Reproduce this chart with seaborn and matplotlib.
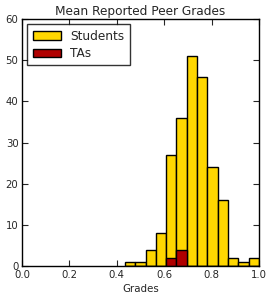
import numpy as np
import pandas as pd
import matplotlib
matplotlib.use("Agg")
import matplotlib.pyplot as plt
import seaborn as sns

# Data
bin_lo = 0.4348
bin_hi = 1.0
n_bins = 13
student_counts = [1, 1, 4, 8, 27, 36, 51, 46, 24, 16, 2, 1, 2]
ta_counts = [0, 0, 0, 0, 2, 4, 0, 0, 0, 0, 0, 0, 0]
series_names = ["Students", "TAs"]
colors = ["#FFD700", "#B00000"]

edges = np.linspace(bin_lo, bin_hi, n_bins + 1)
centers = (edges[:-1] + edges[1:]) / 2

sns.set_style("ticks")
plt.rcParams['font.family'] = ['DejaVu Sans']

fig = plt.figure(figsize=(2.74, 3.0), dpi=100)
ax = fig.add_axes([0.080, 0.113, 0.865, 0.824])

df_s = pd.DataFrame({"g": centers, "w": student_counts})
df_t = pd.DataFrame({"g": centers, "w": ta_counts})

sns.histplot(data=df_s, x="g", weights="w", bins=n_bins, binrange=(bin_lo, bin_hi), ax=ax,
             color=colors[0], alpha=1, edgecolor="black", linewidth=1.0, label=series_names[0])
sns.histplot(data=df_t, x="g", weights="w", bins=n_bins, binrange=(bin_lo, bin_hi), ax=ax,
             color=colors[1], alpha=1, edgecolor="black", linewidth=1.0, label=series_names[1])

ax.set_xlim(0, 1.0)
ax.set_ylim(0, 60)
ax.set_xticks(np.arange(0, 1.01, 0.2))
ax.set_xticklabels([f"{v:.1f}" for v in np.arange(0, 1.01, 0.2)])
ax.set_yticks(range(0, 61, 10))
ax.set_xlabel("Grades", fontsize=7.4, labelpad=3)
ax.set_ylabel("")
ax.set_title("Mean Reported Peer Grades", fontsize=8.7, pad=3)
ax.tick_params(direction="in", top=True, right=True, labelsize=7.3, length=4, width=0.8, pad=2.5)
for s in ax.spines.values():
    s.set_linewidth(1.0)
    s.set_color("black")

leg = ax.legend(loc="upper left", fontsize=8.7, frameon=True, fancybox=False,
                handlelength=2.3, borderpad=0.45, labelspacing=0.35, borderaxespad=0.45)
leg.get_frame().set_edgecolor("black")
leg.get_frame().set_linewidth(1.0)

fig.savefig("out.png", dpi=100)
